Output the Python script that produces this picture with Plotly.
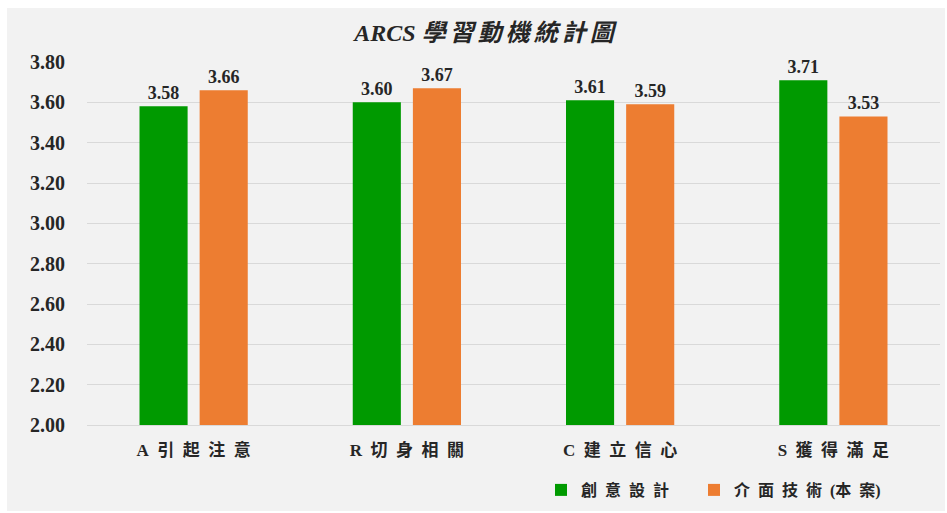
import plotly.graph_objects as go

categories = ["A 引起注意", "R 切身相關", "C 建立信心", "S 獲得滿足"]
series_names = ["創意設計", "介面技術(本案)"]
creative = [3.58, 3.60, 3.61, 3.71]
interface = [3.66, 3.67, 3.59, 3.53]
y_ticks = [2.00, 2.20, 2.40, 2.60, 2.80, 3.00, 3.20, 3.40, 3.60, 3.80]
title_text = "ARCS 學習動機統計圖"

SP = "\u2002"


def spaced(s, sp=SP, tight=True):
    # letter-spaced CJK text
    out = ""
    for i, ch in enumerate(s):
        out += ch
        if i < len(s) - 1:
            nxt = s[i + 1]
            if ch == " " or nxt == " ":
                continue
            if tight and (ch == "(" or nxt == ")"):
                continue
            if ch.isascii() and nxt.isascii():
                continue
            out += sp
    return out.replace(" ", SP)


cat_labels = [spaced(c) for c in categories]
FONT = "Liberation Serif, Times New Roman, Noto Sans CJK TC, serif"
TXT = "#262626"

W, H = 947, 513
L, R, T, B = 87, 7, 62, 88
pw, ph = W - L - R, H - T - B

fig = go.Figure()
fig.add_trace(go.Bar(
    x=cat_labels, y=creative, name=spaced(series_names[0]),
    marker=dict(color="#009A00", line=dict(width=0)),
    texttemplate="%{y:.2f}", textposition="outside",
    textfont=dict(family=FONT, size=18, color=TXT, weight="bold"),
    cliponaxis=False, legend="legend",
))
fig.add_trace(go.Bar(
    x=cat_labels, y=interface, name=spaced(series_names[1]),
    marker=dict(color="#ED7D31", line=dict(width=0)),
    texttemplate="%{y:.2f}", textposition="outside",
    textfont=dict(family=FONT, size=18, color=TXT, weight="bold"),
    cliponaxis=False, legend="legend2",
))


def px_x(p):
    return (p - L) / pw


def px_y(p):
    return (H - B - p) / ph


title_disp = title_text.split(" ")[0] + " " + "\u2006".join(title_text.split(" ")[1])

leg_common = dict(orientation="h", xanchor="left", y=px_y(490), yanchor="middle",
                  font=dict(family=FONT, size=16, color=TXT, weight="bold"),
                  bgcolor="rgba(0,0,0,0)", itemclick=False)

fig.update_layout(
    width=W, height=H,
    margin=dict(l=L, r=R, t=T, b=B, autoexpand=False),
    paper_bgcolor="white",
    plot_bgcolor="rgba(0,0,0,0)",
    barmode="group", bargap=0.436, bargroupgap=0.2,
    title=dict(text=title_disp, x=484 / W, xanchor="center", y=1 - 33 / H, yanchor="middle",
               font=dict(family=FONT, size=24, color=TXT, weight="bold", style="italic")),
    font=dict(family=FONT, color=TXT),
    showlegend=True,
    legend=dict(x=px_x(541), **leg_common),
    legend2=dict(x=px_x(694), **leg_common),
    shapes=[dict(type="rect", xref="paper", yref="paper", layer="below",
                 x0=px_x(7), x1=px_x(945), y0=px_y(511), y1=px_y(8),
                 fillcolor="#F2F2F2", line=dict(width=0))],
)
fig.update_yaxes(range=[2.0, 3.8], tickvals=y_ticks, ticktext=[f"{v:.2f}" for v in y_ticks],
                 showgrid=True, gridcolor="#D9D9D9", gridwidth=1, zeroline=False,
                 showline=False, ticks="", ticklabelstandoff=21,
                 tickfont=dict(family=FONT, size=20, color=TXT, weight="bold"))
fig.update_xaxes(showline=True, linecolor="#D9D9D9", linewidth=1, ticks="",
                 tickfont=dict(family=FONT, size=17, color=TXT, weight="bold"),
                 ticklabelstandoff=10)

fig.write_html("out.html")
